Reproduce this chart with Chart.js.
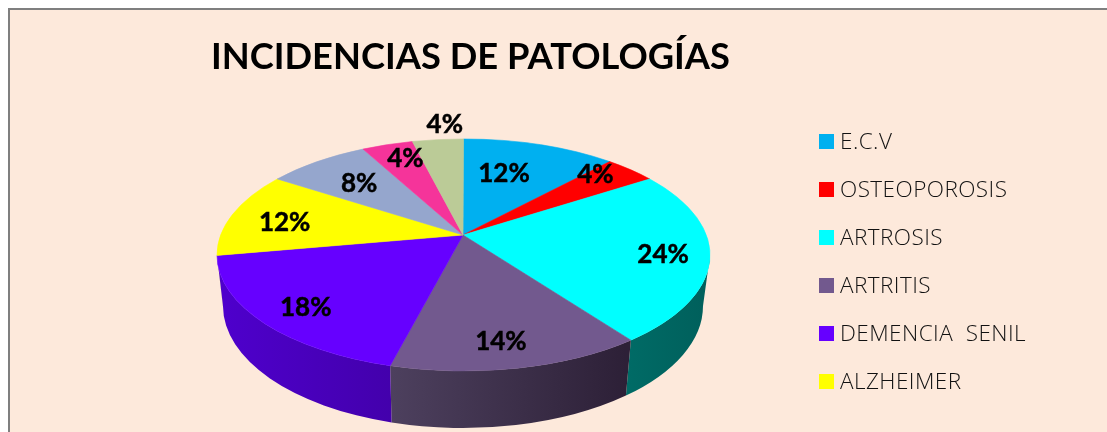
<!DOCTYPE html>
<html><head><meta charset="utf-8">
<style>
html,body{margin:0;padding:0;background:#fff;overflow:hidden}
#bg{position:absolute;left:8px;top:8px;width:1099px;height:424px;background:#FDE9DB;border-left:2px solid #7f7f7f;border-top:2px solid #7f7f7f;box-sizing:border-box}
#c{position:absolute;left:0;top:0}
</style>
<script src="https://cdn.jsdelivr.net/npm/chart.js@4"></script>
</head><body>
<div id="bg"></div>
<canvas id="c" width="1107" height="432"></canvas>
<script>
const chartTitle = 'INCIDENCIAS DE PATOLOGÍAS';
const categories = ['E.C.V','OSTEOPOROSIS','ARTROSIS','ARTRITIS','DEMENCIA  SENIL','ALZHEIMER','','',''];
const values = [12,4,24,14,18,12,8,4,4];
const colors = ['#00B0F0','#FF0000','#00FFFF','#72598E','#6600FF','#FFFF00','#95A6CD','#F5349A','#BBCB97'];
const wallLeft  = ['#006a90','#990000','#006B66','#4D405E','#4E00CC','#999900','#5a6480','#93205c','#70795a'];
const wallRight = ['#006a90','#990000','#00605C','#2D2037','#4300AC','#999900','#5a6480','#93205c','#70795a'];
const labelReachX = [0.535,0.79,0.81,0.677,0.78,0.777,0.713,0.761,0.723];
const labelReachY = [0.676,0.926,0.96,0.803,0.837,0.58,0.707,0.844,1.16];

const top3d = {cx:463.5, cy:255, rx:246.5, ry:116, apexX:463, apexY:235, k:0.83};
const low3d = {cx:463, cy:306, rx:240, ry:122};
const legendStyle = {boxX:819, firstY:134, step:48, box:15, textX:840, textDrop:8.5, font:'300 22.5px "Open Sans"', spacing:'0.45px'};

const phi = t => 2*Math.atan2(top3d.k*Math.sin(t/2), Math.cos(t/2));
const rim = (e,p) => [e.cx+e.rx*Math.sin(p), e.cy-e.ry*Math.cos(p)];
const canvasAngle = p => p-Math.PI/2;

const pie3d = {
  id:'pie3d',
  beforeDatasetDraw(){ return false; },
  afterDatasetsDraw(chart){
    const ctx = chart.ctx, arcs = chart.getDatasetMeta(0).data;
    const sweep = arcs.map(a => [phi(a.startAngle+Math.PI/2), phi(a.endAngle+Math.PI/2)]);
    ctx.save();
    // side wall: front half of the rim only
    sweep.forEach(([p0,p1],i) => {
      const a = Math.max(p0,Math.PI/2), b = Math.min(p1,3*Math.PI/2);
      if (b <= a) return;
      const [xa] = rim(low3d,a), [xb] = rim(low3d,b);
      const g = ctx.createLinearGradient(Math.min(xa,xb),0,Math.max(xa,xb),0);
      g.addColorStop(0,wallLeft[i]); g.addColorStop(1,wallRight[i]);
      ctx.beginPath();
      ctx.ellipse(top3d.cx,top3d.cy,top3d.rx,top3d.ry,0,canvasAngle(a),canvasAngle(b));
      ctx.ellipse(low3d.cx,low3d.cy,low3d.rx,low3d.ry,0,canvasAngle(b),canvasAngle(a),true);
      ctx.closePath();
      ctx.fillStyle = g; ctx.fill();
    });
    // top face
    sweep.forEach(([p0,p1],i) => {
      ctx.beginPath();
      ctx.moveTo(top3d.apexX,top3d.apexY);
      ctx.ellipse(top3d.cx,top3d.cy,top3d.rx,top3d.ry,0,canvasAngle(p0),canvasAngle(p1));
      ctx.closePath();
      ctx.fillStyle = colors[i]; ctx.strokeStyle = colors[i]; ctx.lineWidth = 0.6;
      ctx.fill(); ctx.stroke();
    });
    // value labels
    ctx.fillStyle = '#000'; ctx.strokeStyle = '#000'; ctx.lineWidth = 0.5;
    ctx.font = 'bold 26px Lato';
    ctx.textAlign = 'center'; ctx.textBaseline = 'middle';
    arcs.forEach((a,i) => {
      const [x,y] = rim(top3d, phi((a.startAngle+a.endAngle)/2+Math.PI/2));
      const lx = top3d.apexX+(x-top3d.apexX)*labelReachX[i];
      const ly = top3d.apexY+(y-top3d.apexY)*labelReachY[i];
      ctx.fillText(values[i]+'%', lx, ly);
      ctx.strokeText(values[i]+'%', lx, ly);
    });
    // legend
    ctx.textAlign = 'left'; ctx.font = legendStyle.font; ctx.letterSpacing = legendStyle.spacing;
    categories.forEach((name,i) => {
      if (!name) return;
      const y = legendStyle.firstY + i*legendStyle.step;
      ctx.fillStyle = colors[i];
      ctx.fillRect(legendStyle.boxX, y, legendStyle.box, legendStyle.box);
      ctx.fillStyle = '#111';
      ctx.fillText(name, legendStyle.textX, y+legendStyle.textDrop);
    });
    ctx.restore();
  }
};

new Chart(document.getElementById('c'), {
  type:'pie',
  data:{labels:categories, datasets:[{data:values, backgroundColor:colors, borderWidth:0}]},
  options:{
    responsive:false, animation:false,
    layout:{padding:{left:211}},
    plugins:{
      legend:{display:false}, tooltip:{enabled:false},
      title:{display:true, text:chartTitle, align:'start', color:'#000',
             font:{family:'Lato', weight:'bold', size:36.3}, padding:{top:36,bottom:0}}
    }
  },
  plugins:[pie3d]
});
</script>
</body></html>
